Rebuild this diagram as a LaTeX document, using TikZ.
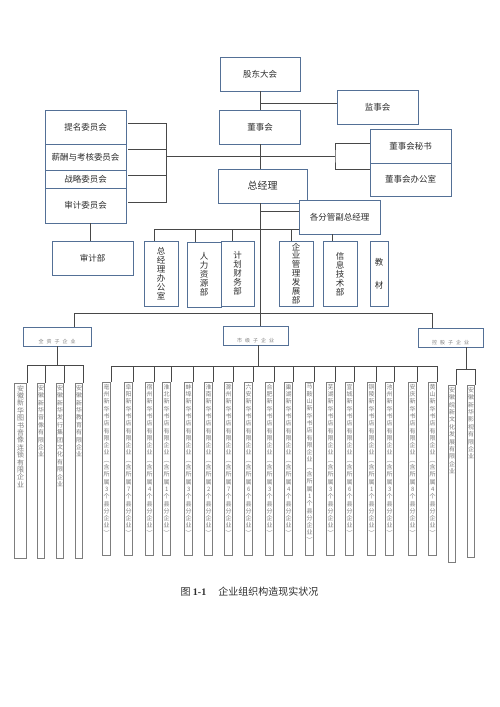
\documentclass[tikz,border=0pt]{standalone}
\usepackage{fontspec}
\setmainfont{Noto Sans CJK SC}
\newfontfamily\capfont{Liberation Serif}
\usetikzlibrary{positioning}

\definecolor{boxblue}{RGB}{84,112,150}
\definecolor{linegray}{RGB}{72,72,72}
\definecolor{colgray}{RGB}{125,125,125}
\definecolor{txtgray}{RGB}{45,45,45}

% vertical (stacked) text
\newcommand\vtext[2][1.05em]{\vbox{\baselineskip=#1\lineskiplimit=-20pt\lineskip=0pt\expandafter\vtx#2\relax}}
\def\vtx#1{\ifx\relax#1\else\hbox to 1em{\hss#1\hss}\expandafter\vtx\fi}

\tikzset{
  box/.style={draw=boxblue, line width=0.9pt, fill=white, inner sep=0pt, text=txtgray, font=\fontsize{8.5}{10}\selectfont},
  dept/.style={box, minimum width=34pt, minimum height=65pt},
  subbox/.style={box, minimum width=66pt, minimum height=19pt},
  subtext/.style={inner sep=0pt, text=colgray, font=\fontsize{5}{6}\selectfont},
  link/.style={draw=linegray, line width=0.8pt},
  colbox/.style={draw=colgray, line width=0.6pt, minimum width=8pt, inner sep=0pt, anchor=north east},
  coltext/.style={inner sep=0pt, anchor=north, text=colgray, font=\fontsize{6}{7}\selectfont},
}

\begin{document}
\begin{tikzpicture}[x=1pt,y=-1pt]
\useasboundingbox (0,0) rectangle (500,707);

% top level
\node[box, minimum width=80pt, minimum height=34pt] (share) at (260,74) {股东大会};
\node[box, minimum width=81pt, minimum height=34pt] (sup) at (377.5,107) {监事会};
\node[box, minimum width=81pt, minimum height=34pt] (board) at (260,127) {董事会};

% committees
\node[box, minimum width=81pt, minimum height=34pt] (nom) at (85.5,127) {提名委员会};
\node[box, minimum width=81pt, minimum height=26pt] (pay) at (85.5,157) {薪酬与考核委员会};
\node[box, minimum width=81pt, minimum height=18pt] (strat) at (85.5,179) {战略委员会};
\node[box, minimum width=81pt, minimum height=35pt] (audc) at (85.5,205.5) {审计委员会};

\node[box, minimum width=81pt, minimum height=34pt] (sec) at (410.5,146) {董事会秘书};
\node[box, minimum width=81pt, minimum height=33pt] (boff) at (410.5,179.5) {董事会办公室};

\node[box, minimum width=89pt, minimum height=34pt, font=\fontsize{10}{12}\selectfont] (gm) at (262.5,186) {总经理};
\node[box, minimum width=81pt, minimum height=34pt] (vice) at (339.5,217) {各分管副总经理};

% departments
\node[box, minimum width=81pt, minimum height=34pt] (auditd) at (92.5,258) {审计部};
\node[dept] (gmo) at (161,273.5) {\vtext{总经理办公室}};
\node[dept] (hr) at (204,274.5) {\vtext{人力资源部}};
\node[dept, minimum width=33pt] (fin) at (237.5,273.5) {\vtext{计划财务部}};
\node[dept] (mgmt) at (296,273.5) {\vtext{企业管理发展部}};
\node[dept] (it) at (340,274) {\vtext{信息技术部}};
\node[dept, minimum width=18pt] (tb) at (379,273.5) {\vtext[23pt]{教材}};

% subsidiaries
\node[subbox, minimum width=68pt] (s1) at (57,336.5) {};
\node[subbox, minimum width=65pt] (s2) at (255.5,335.5) {};
\node[subbox, minimum width=65pt] (s3) at (450.5,337.5) {};
\node[subtext, above=2pt of s1.south] {全\kern3pt 资\kern3pt 子\kern3pt 企\kern3pt 业};
\node[subtext, above=2pt of s2.south] {市\kern3pt 级\kern3pt 子\kern3pt 企\kern3pt 业};
\node[subtext, above=2pt of s3.south] {控\kern3pt 股\kern3pt 子\kern3pt 企\kern3pt 业};

% connectors, upper part
\draw[link] (share.south) -- (board.north);
\draw[link] ([yshift=4pt]sup.west) -- ([yshift=4pt]sup.west -| share.south);
\draw[link] (board.south) -- (board.south |- gm.north);
\coordinate (lj) at (166,156);
\coordinate (rj) at (335,156);
\draw[link] (lj) -- (rj);
\foreach \n/\s in {nom/4, pay/8, strat/4, audc/3}
  \draw[link] ([xshift=2pt, yshift=\s pt]\n.east) -| (lj);
\draw[link] ([yshift=3pt]sec.west) -| (rj) |- ([yshift=10pt]boff.west);
\draw[link] ([xshift=-2.5pt]auditd.north) -- ([xshift=-2.5pt]auditd.north |- audc.south);

% general manager to departments
\draw[link] (gm.south -| board.south) -- (s2.north -| board.south);
\draw[link] ([yshift=6pt]vice.west) -- ([yshift=6pt]vice.west -| board.south);
\coordinate (db) at (154,229);
\draw[link] (db) -- (db -| vice.west);
\foreach \n/\d in {gmo/7, hr/9, fin/5.5, mgmt/5}
  \draw[link] ([xshift=-\d pt]\n.north) -- ([xshift=-\d pt]\n.north |- db);
\draw[link] ([xshift=-8pt]it.north) -- ([xshift=-8pt]it.north |- vice.south);

% general manager to subsidiaries
\coordinate (lb) at (74,313);
\draw[link] (lb) -- ([xshift=-18.5pt]s3.north |- lb);
\draw[link] ([xshift=17pt]s1.north) -- ([xshift=17pt]s1.north |- lb);
\draw[link] ([xshift=-18.5pt]s3.north) -- ([xshift=-18.5pt]s3.north |- lb);

% first group
\coordinate (g1bus) at (0,365);
\foreach \x/\w/\t [count=\i] in {27/12/安徽新华图书音像连锁有限企业, 45/7/安徽新华音像有限企业,
    64/7/安徽新华发行集团文化有限企业, 83/7/安徽新华教育有限企业} {
  \node[colbox, minimum width=\w pt, minimum height=175pt] (a\i) at (\x,383) {};
  \draw[link] (a\i.north east) -- (a\i.north east |- g1bus);
}
\node[coltext, font=\fontsize{7}{8}\selectfont] at ([yshift=-2pt]a1.north) {\vtext[7.4pt]{安徽新华图书音像连锁有限企业}};
\foreach \i/\t in {2/安徽新华音像有限企业, 3/安徽新华发行集团文化有限企业, 4/安徽新华教育有限企业}
  \node[coltext] at ([yshift=-2pt]a\i.north) {\vtext[7.4pt]{\t}};
\draw[link] (a1.north east |- g1bus) -- (a4.north east |- g1bus);
\draw[link] (s1.south) -- (s1.south |- g1bus);

% second group
\coordinate (g2bus) at (0,366);
\foreach \x/\t [count=\i] in {
    111/亳州新华书店有限企业︵含所属3个县分企业︶, 133/阜阳新华书店有限企业︵含所属7个县分企业︶,
    154/宿州新华书店有限企业︵含所属4个县分企业︶, 171/淮北新华书店有限企业︵含所属1个县分企业︶,
    193/蚌埠新华书店有限企业︵含所属3个县分企业︶, 213/淮南新华书店有限企业︵含所属2个县分企业︶,
    233/滁州新华书店有限企业︵含所属7个县分企业︶, 253/六安新华书店有限企业︵含所属6个县分企业︶,
    274/合肥新华书店有限企业︵含所属3个县分企业︶, 293/巢湖新华书店有限企业︵含所属4个县分企业︶,
    314/马鞍山新华书店有限企业︵含所属1个县分企业︶, 335/芜湖新华书店有限企业︵含所属3个县分企业︶,
    354/宣城新华书店有限企业︵含所属6个县分企业︶, 376/铜陵新华书店有限企业︵含所属1个县分企业︶,
    394/池州新华书店有限企业︵含所属3个县分企业︶, 417/安庆新华书店有限企业︵含所属8个县分企业︶,
    437/黄山新华书店有限企业︵含所属4个县分企业︶} {
  \node[colbox, minimum height=173pt] (m\i) at (\x,382) {};
  \node[coltext] at ([yshift=-2pt]m\i.north) {\vtext[7.3pt]{\t}};
  \draw[link] (m\i.north east) -- (m\i.north east |- g2bus);
}
\draw[link] (m1.north east |- g2bus) -- (m17.north east |- g2bus);
\draw[link] ([xshift=2.5pt]s2.south) -- ([xshift=2.5pt]s2.south |- g2bus);

% third group
\coordinate (g3bus) at (0,369);
\foreach \x/\h/\t [count=\i] in {456/177/安徽皖新文化发展有限企业, 475/172/安徽新华影视有限企业} {
  \node[colbox, minimum width=7pt, minimum height=\h pt] (b\i) at (\x,385) {};
  \node[coltext] at ([yshift=-2pt]b\i.north) {\vtext[7.4pt]{\t}};
  \draw[link] (b\i.north east) -- (b\i.north east |- g3bus);
}
\draw[link] (b1.north east |- g3bus) -- (b2.north east |- g3bus);
\draw[link] ([xshift=15.5pt]s3.south) -- ([xshift=15.5pt]s3.south |- g3bus);

% caption
\node[text=txtgray, font=\fontsize{10}{12}\selectfont] (cap) at (249.5,592) {图 {\capfont\bfseries 1-1}\hspace{1.2em}企业组织构造现实状况};
\end{tikzpicture}
\end{document}
